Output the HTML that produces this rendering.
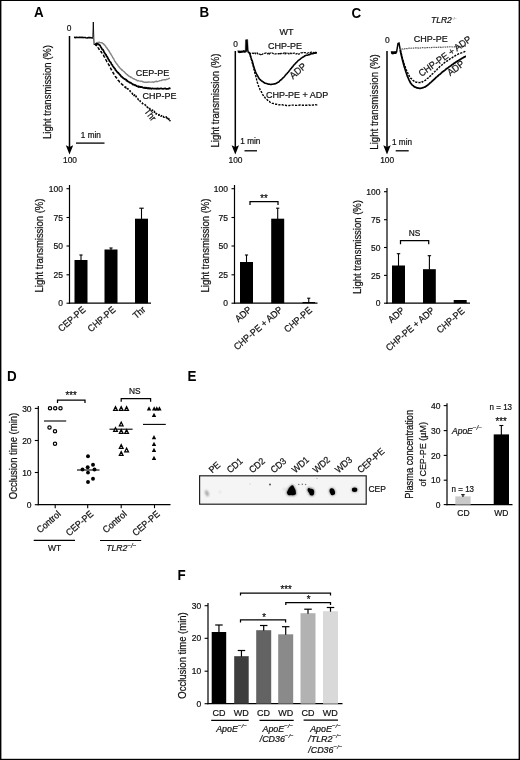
<!DOCTYPE html>
<html><head><meta charset="utf-8"><title>Figure</title>
<style>
html,body{margin:0;padding:0;background:#fff;}
body{width:520px;height:760px;overflow:hidden;font-family:"Liberation Sans",sans-serif;}
svg{display:block;}
svg text{font-family:"Liberation Sans",sans-serif;}
</style></head><body>
<svg width="520" height="760" viewBox="0 0 520 760">
<rect x="0" y="0" width="520" height="760" fill="#fff"/>
<rect x="0" y="0" width="520" height="1" fill="#000"/><rect x="0" y="758.8" width="520" height="1.2" fill="#000"/><rect x="0" y="0" width="1.4" height="760" fill="#000"/><rect x="518.6" y="0" width="1.4" height="760" fill="#000"/>
<defs><filter id="soft" x="0" y="0" width="100%" height="100%" filterUnits="userSpaceOnUse"><feGaussianBlur stdDeviation="0.33"/></filter></defs>
<g filter="url(#soft)">
<text transform="translate(34 17.3) scale(0.9 1)" font-size="14.89" font-weight="bold" fill="#000">A</text>
<text transform="translate(199.5 17.3) scale(0.9 1)" font-size="14.89" font-weight="bold" fill="#000">B</text>
<text transform="translate(351.5 17.6) scale(0.9 1)" font-size="14.89" font-weight="bold" fill="#000">C</text>
<text transform="translate(7 380.8) scale(0.9 1)" font-size="14.89" font-weight="bold" fill="#000">D</text>
<text transform="translate(187.5 380.8) scale(0.9 1)" font-size="14.89" font-weight="bold" fill="#000">E</text>
<text transform="translate(177.6 580.3) scale(0.9 1)" font-size="14.89" font-weight="bold" fill="#000">F</text>
<text transform="translate(69 30.5) scale(0.925 1)" font-size="9.08" text-anchor="middle" fill="#111" stroke="#111" stroke-width="0.22">0</text>
<line x1="69.5" y1="36" x2="69.5" y2="148.5" stroke="#000" stroke-width="1.5"/>
<polygon points="65.8,145.2 69.5,146.9 73.2,145.2 69.5,154.5" fill="#000"/>
<text transform="translate(70 163) scale(0.925 1)" font-size="9.08" text-anchor="middle" fill="#111" stroke="#111" stroke-width="0.22">100</text>
<text transform="translate(50.9 92) rotate(-90) scale(0.925 1)" font-size="10.27" text-anchor="middle" fill="#111" stroke="#111" stroke-width="0.22">Light transmission (%)</text>
<text transform="translate(90.8 138.2) scale(0.925 1)" font-size="8.86" text-anchor="middle" fill="#111" stroke="#111" stroke-width="0.22">1 min</text>
<line x1="76" y1="143.1" x2="104.5" y2="143.1" stroke="#000" stroke-width="1.3"/>
<polyline points="74.0,37.5 74.7,37.4 75.6,37.6 76.6,37.3 77.8,37.5 78.9,37.4 80.0,37.2 81.0,37.5 82.0,37.3 82.9,37.6 83.9,37.5 84.9,37.5 86.0,37.8 87.2,38.0 88.5,37.6 89.9,37.6 91.1,37.8 92.2,38.0 93.0,37.7" fill="none" stroke="#000" stroke-width="1.6" stroke-linejoin="round"/>
<polyline points="92.8,37.6 93.3,22 93.8,37.5 94.1,44.8 95.3,43.6" fill="none" stroke="#000" stroke-width="0.9"/>
<polyline points="95.3,43.9 95.6,44.1 95.9,43.4 96.3,43.6 96.8,43.0 97.3,42.7 97.8,42.4 98.3,42.4 98.8,42.6 99.2,42.2 99.7,42.5 100.2,42.6 100.7,42.6 101.2,42.8 101.7,42.7 102.1,42.9 102.5,43.1 102.8,43.6 103.1,43.6 103.4,43.7 103.6,44.1 103.9,44.2 104.1,44.3 104.3,44.9 104.6,45.1 104.9,45.2 105.2,45.7 105.5,46.0 105.7,46.7 106.0,47.0 106.4,47.1 106.7,48.0 107.0,48.0 107.3,48.7 107.7,49.4 108.1,49.6 108.5,50.4 108.9,50.7 109.3,51.6 109.6,52.3 110.0,52.7 110.4,53.5 110.7,53.7 111.0,54.5 111.4,55.0 111.7,55.5 112.0,56.0 112.4,56.8 112.7,57.5 113.0,57.8 113.4,58.5 113.7,58.7 114.1,59.7 114.4,60.3 114.7,61.1 115.1,61.6 115.4,61.8 115.7,62.4 116.1,63.0 116.4,63.1 116.7,63.9 117.1,64.2 117.4,64.6 117.7,64.9 118.0,65.8 118.3,65.7 118.5,66.1 118.8,66.5 119.0,67.1 119.3,66.9 119.5,67.4 119.7,67.7 120.0,68.2 120.3,68.5 120.6,68.8 120.8,68.8 121.1,69.1 121.4,69.4 121.7,70.0 122.0,70.3 122.3,70.1 122.6,70.4 122.9,70.6 123.1,70.9 123.4,71.3 123.7,71.6 124.0,71.6 124.3,71.7 124.6,72.3 124.9,72.5 125.3,73.0 125.6,73.5 126.0,73.7 126.4,73.9 126.7,74.3 127.1,74.7 127.5,74.6 127.9,75.4 128.3,75.7 128.7,76.0 129.1,76.3 129.5,76.4 129.9,76.7 130.3,76.8 130.8,77.4 131.3,77.3 131.8,77.6 132.3,78.0 132.8,78.3 133.3,78.7 133.9,78.8 134.4,79.0 135.0,79.4 135.6,79.6 136.1,80.0 136.6,80.0 137.1,80.7 137.7,80.7 138.4,80.6 139.1,80.9 140.0,81.1 141.0,81.3 142.1,81.3 143.4,82.0 144.7,82.2 146.0,82.1 147.4,82.2 148.7,82.0 150.0,82.1 151.2,82.1 152.5,82.0 153.8,82.2 155.0,81.6 156.2,81.3 157.5,81.6 158.8,81.1 160.0,80.6 161.3,80.5 162.7,79.9 164.2,79.8 165.6,79.7 167.0,79.3 168.2,78.9 169.2,78.4 170.0,78.2" fill="none" stroke="#858585" stroke-width="1.45" stroke-linejoin="round"/>
<polyline points="95.3,44.0 95.5,44.4 95.7,44.1 96.0,44.2 96.2,43.7 96.6,43.5 96.9,43.8 97.2,43.9 97.5,43.9 97.8,44.0 98.1,44.2 98.4,44.4 98.7,44.2 99.1,44.8 99.4,45.0 99.7,45.1 100.0,45.4 100.3,46.0 100.6,46.3 100.9,47.1 101.2,47.7 101.4,47.7 101.7,48.5 102.0,49.0 102.3,49.4 102.6,49.3 102.9,49.7 103.2,50.1 103.4,50.6 103.7,51.0 104.0,51.9 104.3,52.5 104.6,53.0 104.9,53.2 105.2,53.8 105.5,54.4 105.8,54.3 106.1,55.2 106.4,55.9 106.7,56.2 107.0,56.7 107.3,57.0 107.5,57.2 107.8,58.2 108.1,58.3 108.3,59.1 108.6,59.7 108.9,59.8 109.2,60.3 109.5,61.3 109.9,61.7 110.3,61.8 110.7,62.4 111.1,63.0 111.5,64.2 111.9,64.8 112.3,64.8 112.7,65.9 113.1,66.6 113.5,67.0 113.8,67.3 114.2,68.0 114.6,68.2 115.0,68.7 115.4,70.0 115.8,70.2 116.2,70.6 116.6,71.4 117.0,71.5 117.3,72.3 117.7,72.7 118.1,72.6 118.5,73.1 118.9,73.6 119.3,73.9 119.6,74.6 120.0,74.8 120.4,75.3 120.7,75.5 121.1,76.5 121.5,76.4 121.9,76.8 122.3,77.2 122.7,77.8 123.0,77.7 123.4,78.4 123.8,78.4 124.2,78.7 124.6,79.0 125.0,78.9 125.4,79.5 125.8,79.6 126.1,79.7 126.5,80.7 126.9,80.4 127.3,80.9 127.7,81.4 128.1,81.5 128.5,81.5 128.9,81.9 129.3,82.2 129.6,82.6 130.0,82.3 130.4,82.8 130.8,82.8 131.2,83.0 131.6,83.6 131.9,83.6 132.3,83.9 132.7,84.2 133.0,84.6 133.4,84.4 133.8,84.7 134.2,84.8 134.6,85.0 135.0,85.3 135.4,85.2 135.8,85.5 136.2,85.6 136.6,86.1 137.0,86.1 137.4,86.4 137.7,86.5 138.1,86.1 138.4,86.5 138.7,87.0 139.1,87.0 139.5,86.6 140.0,86.7 140.5,87.1 141.1,86.9 141.7,87.1 142.4,87.1 143.0,87.7 143.7,87.9 144.4,88.0 145.0,87.5 145.6,88.1 146.2,88.1 146.9,87.7 147.5,88.4 148.1,88.5 148.8,88.0 149.4,88.6 150.0,88.2 150.6,88.3 151.2,88.8 151.7,88.7 152.3,88.3 152.9,88.5 153.5,88.6 154.2,88.5 155.0,88.5 155.9,88.6 156.8,88.9 157.8,88.4 158.8,88.8 159.9,88.7 161.0,88.3 162.0,88.6 163.0,88.8 164.0,88.7 165.1,88.3 166.2,89.0 167.2,88.8 168.3,88.9 169.2,88.2 169.9,88.3 170.5,88.1" fill="none" stroke="#000" stroke-width="1.75" stroke-linejoin="round"/>
<polyline points="95.0,44.7 95.1,44.4 95.2,44.4 95.4,44.6 95.6,45.0 95.8,45.1 96.0,44.9 96.3,45.0 96.5,45.8 96.8,45.9 97.0,46.3 97.3,46.3 97.6,46.8 98.0,47.6 98.3,48.0 98.6,48.2 99.0,49.3 99.4,49.6 99.8,50.2 100.2,50.4 100.6,51.4 101.1,51.5 101.5,52.5 101.9,52.9 102.3,53.4 102.7,54.1 103.0,54.9 103.3,55.1 103.7,55.6 104.0,56.5 104.3,56.9 104.7,57.4 105.0,58.1 105.4,58.7 105.7,59.4 106.1,60.1 106.5,60.7 106.9,61.7 107.2,62.0 107.6,62.8 108.0,63.3 108.4,64.1 108.8,64.6 109.1,65.4 109.5,66.0 109.9,67.1 110.3,67.7 110.6,68.2 111.0,69.0 111.4,69.9 111.7,70.0 112.1,71.1 112.4,71.4 112.8,72.1 113.1,72.9 113.5,73.2 113.8,73.8 114.1,74.5 114.5,75.2 114.8,75.3 115.1,76.1 115.5,76.6 115.8,77.1 116.1,77.4 116.5,77.9 116.9,78.3 117.3,78.8 117.6,79.3 118.0,80.2 118.4,80.5 118.8,80.9 119.2,81.3 119.6,82.2 120.0,82.6 120.3,82.9 120.7,83.0 121.1,83.3 121.4,83.7 121.8,84.1 122.1,84.3 122.5,84.8 122.9,85.0 123.3,85.8 123.7,86.1 124.1,86.2 124.5,86.3 124.9,87.1 125.2,86.9 125.4,87.1" fill="none" stroke="#000" stroke-width="1.5" stroke-linejoin="round" stroke-dasharray="3.2 1.7"/>
<polyline points="125.4,86.5 125.6,87.2 125.8,87.6 126.1,87.9 126.5,87.7 126.8,88.5 127.2,88.1 127.6,88.8 128.0,88.9 128.4,89.7 128.8,89.6 129.2,89.9 129.7,90.7 130.1,90.9 130.6,91.8 131.1,92.1 131.5,92.9 131.9,93.1 132.4,93.6 132.8,94.2 133.2,93.9 133.7,94.3 134.1,95.6 134.5,94.9 135.0,96.1 135.5,96.5 136.0,96.1 136.5,97.7 137.0,98.3 137.5,98.5 138.0,99.1 138.5,99.7 139.0,99.3 139.5,100.3 140.0,100.8 140.5,101.7 141.0,102.1 141.5,102.6 142.0,102.7 142.5,103.6 143.0,103.8 143.5,104.2 144.0,104.0 144.5,104.1 145.0,104.7 145.5,105.4 146.0,105.5 146.5,106.9 147.0,106.9 147.5,107.4 148.0,107.7 148.5,108.1 149.0,108.2 149.5,107.9 150.0,109.3 150.5,109.6 151.0,109.6 151.5,110.0 152.0,110.6 152.5,110.1 153.1,111.4 153.6,111.1 154.1,111.2 154.5,111.9 155.0,112.8 155.4,112.4 155.8,113.4 156.2,114.0 156.5,113.6 156.8,113.6 157.2,114.0 157.6,114.5 158.0,114.9 158.5,114.9 159.0,115.2 159.5,114.6 160.0,114.9 160.5,115.3 161.0,116.2 161.5,115.7 162.0,116.3 162.4,115.7 162.8,115.9 163.2,116.3 163.6,117.0 163.9,117.1 164.3,117.2 164.6,116.8 165.0,117.2 165.4,117.2 165.8,117.3 166.2,116.9 166.6,118.1 166.9,117.2 167.3,118.4 167.7,118.4 168.0,117.3 168.3,118.2 168.6,119.0 168.9,119.5 169.2,119.1 169.4,119.2 169.7,119.4 169.9,120.7 170.0,119.9" fill="none" stroke="#000" stroke-width="1.6" stroke-linejoin="round" stroke-dasharray="2 1.5"/>
<text transform="translate(135.7 76) scale(0.925 1)" font-size="9.73" fill="#111" stroke="#111" stroke-width="0.22">CEP-PE</text>
<text transform="translate(142.5 99) scale(0.925 1)" font-size="9.73" fill="#111" stroke="#111" stroke-width="0.22">CHP-PE</text>
<text transform="translate(143.8 111.5) rotate(52) scale(0.925 1)" font-size="9.51" fill="#111" stroke="#111" stroke-width="0.22">Thr</text>
<text transform="translate(235.6 47) scale(0.925 1)" font-size="9.08" text-anchor="middle" fill="#111" stroke="#111" stroke-width="0.22">0</text>
<line x1="235.3" y1="51" x2="235.3" y2="148.5" stroke="#000" stroke-width="1.5"/>
<polygon points="231.60000000000002,145.2 235.3,146.9 239.0,145.2 235.3,154.5" fill="#000"/>
<text transform="translate(235.5 163) scale(0.925 1)" font-size="9.08" text-anchor="middle" fill="#111" stroke="#111" stroke-width="0.22">100</text>
<text transform="translate(218.6 100.5) rotate(-90) scale(0.925 1)" font-size="10.27" text-anchor="middle" fill="#111" stroke="#111" stroke-width="0.22">Light transmission (%)</text>
<text transform="translate(250.3 143.7) scale(0.925 1)" font-size="8.86" text-anchor="middle" fill="#111" stroke="#111" stroke-width="0.22">1 min</text>
<line x1="244.5" y1="150.8" x2="257" y2="150.8" stroke="#000" stroke-width="1.3"/>
<text transform="translate(286.5 35) scale(0.925 1)" font-size="9.73" text-anchor="middle" fill="#111" stroke="#111" stroke-width="0.22">WT</text>
<text transform="translate(285 48.7) scale(0.925 1)" font-size="9.73" text-anchor="middle" fill="#111" stroke="#111" stroke-width="0.22">CHP-PE</text>
<polyline points="237.7,51.6 238.1,51.5 238.7,51.8 239.3,52.1 240.0,51.7 240.7,52.0 241.5,51.7 242.3,51.7 243.0,51.5 243.7,51.2 244.5,51.7 245.1,51.5 245.6,51.3" fill="none" stroke="#000" stroke-width="2.2" stroke-linejoin="round"/>
<polygon points="245.2,52 245.5,39.8 247.7,39.5 248.3,50 249.3,53 248,53 247,50 246.6,52" fill="#000" stroke="#000" stroke-width="0.4"/>
<polyline points="249.0,52.8 249.7,53.5 250.5,53.4 251.2,53.2 252.0,53.0 252.8,53.3 253.5,53.2 254.2,54.0 255.0,52.8 255.8,53.9 256.5,54.0 257.2,52.9 258.0,54.1 258.8,53.7 259.5,54.1 260.2,54.3 261.0,55.3 261.8,54.5 262.5,54.2 263.2,53.5 264.0,53.3 264.8,53.4 265.5,53.2 266.2,52.8 267.0,52.9 267.8,54.0 268.5,53.2 269.2,54.2 270.0,53.1 270.8,53.1 271.5,53.5 272.2,53.0 273.0,53.3 273.8,54.2 274.5,54.1 275.2,54.0 276.0,53.7 276.8,54.1 277.5,54.2 278.2,53.6 279.0,53.8 279.8,52.8 280.5,53.8 281.2,53.4 282.0,53.9 282.8,53.7 283.5,53.2 284.2,52.8 285.0,54.1 285.8,52.9 286.5,53.5 287.2,53.3 288.0,53.2 288.8,53.9 289.5,54.2 290.2,53.1 291.0,53.7 291.8,53.2 292.5,53.6 293.2,53.3 294.0,53.0 294.8,53.0 295.5,53.1 296.2,54.1 297.0,53.5 297.8,53.1 298.5,54.1 299.2,54.2 300.0,53.3 300.8,52.8 301.5,52.8 302.2,52.6 303.0,52.9 303.8,52.5 304.5,52.7 305.2,52.6 306.0,53.0 306.8,53.5 307.5,53.2 308.2,52.7 309.0,52.6 309.8,52.7 310.5,52.4 311.2,52.3 312.0,51.9 312.8,52.1 313.5,53.1 314.2,51.8 315.0,52.3 315.8,52.4 316.5,52.7" fill="none" stroke="#111" stroke-width="1.25" stroke-linejoin="round" stroke-dasharray="2.4 0.9"/>
<polyline points="249.2,52.0 249.4,52.7 249.7,53.5 250.1,54.6 250.5,55.8 250.9,57.3 251.3,58.5 251.7,59.8 252.1,60.6 252.5,61.8 252.8,63.3 253.1,64.6 253.5,65.7 253.8,66.9 254.2,67.9 254.6,69.2 255.0,70.6 255.4,71.6 255.9,72.7 256.3,73.7 256.8,74.4 257.3,75.3 257.8,76.2 258.3,77.2 258.8,78.1 259.4,78.9 259.9,79.5 260.6,80.0 261.2,80.6 261.8,81.0 262.5,81.5 263.1,81.7 263.7,82.4 264.3,82.6 264.9,83.2 265.5,83.3 266.1,83.4 266.7,83.6 267.3,83.8 267.9,84.1 268.5,84.3 269.1,84.1 269.7,84.2 270.3,84.4 270.9,84.5 271.5,84.4 272.1,84.3 272.7,84.3 273.3,84.0 273.9,84.0 274.5,83.9 275.1,83.9 275.6,83.6 276.2,83.4 276.8,83.0 277.4,82.6 278.0,82.2 278.6,82.1 279.2,81.5 279.8,80.8 280.4,80.2 281.1,79.8 281.7,79.3 282.3,78.6 282.9,77.9 283.5,77.5 284.1,77.0 284.7,76.1 285.2,75.3 285.8,74.8 286.4,74.1 287.1,73.5 287.7,72.6 288.4,72.0 289.1,71.1 289.8,70.1 290.5,69.1 291.3,68.4 292.0,67.3 292.8,66.6 293.5,65.5 294.2,64.7 294.9,64.1 295.6,63.2 296.3,62.7 297.1,61.8 297.8,61.0 298.5,60.3 299.2,59.8 299.9,59.3 300.6,58.8 301.4,58.0 302.1,57.6 302.8,57.1 303.5,57.0 304.3,56.2 305.0,55.8 305.7,55.5 306.4,55.3 307.2,55.2 307.9,55.0 308.6,54.7 309.3,54.6 310.1,54.4 310.8,53.9 311.6,53.7 312.5,53.8 313.4,53.5 314.3,53.0 315.1,53.1 315.9,52.9 316.5,52.7 317.0,52.6" fill="none" stroke="#000" stroke-width="1.6" stroke-linejoin="round"/>
<polyline points="249.6,52.8 249.6,52.8 249.7,53.0 249.7,53.1 249.7,53.6 249.8,53.3 249.9,54.1 250.0,54.1 250.2,54.9 250.4,56.1 250.7,57.2 251.1,58.3 251.4,59.4 251.8,61.2 252.2,62.6 252.6,64.4 253.0,65.4 253.4,66.9 253.7,68.7 254.1,69.6 254.5,71.4 254.9,73.1 255.3,74.5 255.6,75.5 256.0,76.8 256.4,78.1 256.7,79.9 257.0,80.8 257.3,82.3 257.7,83.6 258.0,84.4 258.4,85.5 258.8,87.0 259.2,87.8 259.7,88.7 260.2,90.0 260.7,90.7 261.2,91.7 261.7,92.4 262.2,93.7 262.7,94.6 263.2,95.2 263.6,96.1 264.1,96.2 264.5,96.9 265.0,97.6 265.5,98.4 266.0,99.0 266.5,99.1 267.0,99.6 267.6,100.2 268.1,100.7 268.7,101.4 269.3,101.4 269.9,102.1 270.6,102.5 271.3,102.9 272.0,103.2 272.8,103.4 273.5,103.5 274.3,103.7 275.2,104.0 276.1,104.4 277.0,104.2 278.0,104.4 279.1,104.9 280.2,104.7 281.3,104.7 282.5,104.8 283.7,105.2 285.0,105.1 286.3,105.5 287.7,105.5 289.1,105.6 290.6,105.2 292.2,105.1 293.8,105.1 295.4,105.3 297.0,105.4 298.6,105.2 300.0,105.0 301.4,105.1 302.7,105.2 304.0,105.3 305.3,105.3 306.5,105.3 307.7,105.2 308.9,104.9 310.0,105.3 311.1,105.0 312.2,105.1 313.3,105.0 314.4,105.2 315.3,104.8 316.2,104.9 316.9,104.9 317.5,104.8" fill="none" stroke="#000" stroke-width="1.4" stroke-linejoin="round" stroke-dasharray="2.2 1.2"/>
<text transform="translate(293 79.5) rotate(-41) scale(0.925 1)" font-size="9.73" fill="#111" stroke="#111" stroke-width="0.22">ADP</text>
<text transform="translate(266 98) scale(0.925 1)" font-size="9.73" fill="#111" stroke="#111" stroke-width="0.22">CHP-PE + ADP</text>
<text transform="translate(387.3 43) scale(0.925 1)" font-size="9.08" text-anchor="middle" fill="#111" stroke="#111" stroke-width="0.22">0</text>
<line x1="387" y1="51" x2="387" y2="148.5" stroke="#000" stroke-width="1.5"/>
<polygon points="383.3,145.2 387,146.9 390.7,145.2 387,154.5" fill="#000"/>
<text transform="translate(387.2 163) scale(0.925 1)" font-size="9.08" text-anchor="middle" fill="#111" stroke="#111" stroke-width="0.22">100</text>
<text transform="translate(377.7 102) rotate(-90) scale(0.925 1)" font-size="10.43" text-anchor="middle" fill="#111" stroke="#111" stroke-width="0.22">Light transmission (%)</text>
<text transform="translate(402 145) scale(0.925 1)" font-size="8.86" text-anchor="middle" fill="#111" stroke="#111" stroke-width="0.22">1 min</text>
<line x1="395.7" y1="150.8" x2="408.7" y2="150.8" stroke="#000" stroke-width="1.3"/>
<text transform="translate(431 23.4) scale(1.0 1)" font-size="8.5" font-style="italic" fill="#111" stroke="#111" stroke-width="0.22">TLR2<tspan font-size="3.4" dy="-3.4" fill="#777" stroke="#777" stroke-width="0.1">−/−</tspan></text>
<text transform="translate(413.7 41.7) scale(0.925 1)" font-size="9.73" fill="#111" stroke="#111" stroke-width="0.22">CHP-PE</text>
<polyline points="391.0,52.8 391.4,52.7 391.9,52.6 392.5,52.7 393.0,53.0 393.5,52.8 394.0,52.6 394.5,52.7 395.0,52.6 395.5,52.7 396.0,52.3 396.5,52.5 396.8,52.6" fill="none" stroke="#000" stroke-width="2.8" stroke-linejoin="round"/>
<polyline points="396.5,52.5 398,43.5 399,43 400,48.5 400.5,50" fill="none" stroke="#000" stroke-width="1.5"/>
<polyline points="400.5,49.7 400.7,49.7 400.8,49.1 401.1,49.2 401.3,49.0 401.6,48.9 402.0,49.3 402.5,48.9 403.0,49.1 403.6,48.6 404.4,48.9 405.2,48.6 406.0,48.4 407.0,48.6 407.9,48.7 409.0,48.1 410.0,48.4 411.1,48.3 412.3,48.0 413.5,48.1 414.8,47.9 416.1,47.9 417.4,47.9 418.7,48.1 420.0,48.1 421.2,47.8 422.5,47.6 423.8,47.7 425.0,47.9 426.2,47.6 427.5,47.6 428.8,47.5 430.0,47.8 431.2,47.6 432.5,47.3 433.8,47.2 435.0,47.4 436.2,47.4 437.5,47.5 438.8,47.1 440.0,47.1 441.2,47.4 442.5,47.2 443.8,47.0 445.0,47.0 446.2,47.3 447.5,46.9 448.8,47.0 450.0,46.8 451.3,46.8 452.6,47.0 453.9,47.0 455.2,46.6 456.5,46.5 457.8,46.7 458.9,46.4 460.0,46.2 461.0,46.7 461.9,46.4 462.8,46.6 463.6,46.3 464.4,46.5 465.0,46.2 465.6,46.0 466.0,45.9" fill="none" stroke="#555" stroke-width="1.1" stroke-linejoin="round" stroke-dasharray="1.6 0.7"/>
<polyline points="400.2,50.0 400.3,50.6 400.5,51.5 400.7,52.2 400.9,53.3 401.2,54.4 401.4,55.6 401.7,56.7 402.0,57.9 402.3,59.3 402.7,60.7 403.0,61.9 403.4,63.5 403.8,65.0 404.2,66.5 404.6,67.6 405.0,68.9 405.4,70.3 405.8,71.5 406.1,72.5 406.5,73.4 406.9,74.7 407.2,75.6 407.6,76.7 408.0,77.5 408.4,78.5 408.7,79.1 409.1,80.1 409.4,80.7 409.8,81.5 410.2,82.3 410.6,83.0 411.0,83.4 411.4,84.0 411.9,84.6 412.4,85.1 412.9,85.5 413.4,85.8 413.9,86.3 414.4,86.8 415.0,87.1 415.6,87.1 416.2,87.6 416.8,87.8 417.5,87.8 418.2,88.2 418.8,88.1 419.4,88.3 420.0,88.3 420.6,88.3 421.1,88.2 421.6,88.1 422.1,88.0 422.6,87.8 423.1,87.7 423.5,87.5 424.0,87.3 424.5,87.0 424.9,87.0 425.3,86.7 425.7,86.4 426.1,86.3 426.6,86.0 427.0,85.6 427.5,85.2 428.0,84.9 428.5,84.3 429.1,83.9 429.6,83.5 430.2,82.8 430.8,82.4 431.4,81.9 432.0,81.2 432.6,80.8 433.3,80.0 434.0,79.6 434.7,78.9 435.4,78.2 436.1,77.4 436.8,76.9 437.5,76.3 438.2,75.8 438.8,75.0 439.5,74.6 440.2,74.1 440.8,73.4 441.5,72.8 442.2,72.0 443.0,71.6 443.8,70.9 444.6,70.4 445.5,69.7 446.3,68.8 447.2,68.4 448.1,67.8 449.1,66.8 450.0,66.3 451.0,65.7 451.9,64.8 452.9,64.3 453.9,63.4 455.0,62.9 456.0,62.0 457.0,61.4 458.0,60.9 459.1,60.1 460.2,59.4 461.4,58.8 462.5,58.1 463.6,57.4 464.6,56.9 465.4,56.4 466.0,56.3" fill="none" stroke="#000" stroke-width="1.75" stroke-linejoin="round"/>
<polyline points="400.5,50.1 400.6,50.7 400.7,50.9 400.9,52.0 401.1,52.4 401.3,53.5 401.5,54.5 401.7,55.4 402.0,56.7 402.3,57.6 402.6,58.9 403.0,60.3 403.4,61.3 403.8,63.1 404.2,64.2 404.6,65.3 405.0,66.6 405.4,67.4 405.8,68.8 406.1,69.5 406.5,70.2 406.9,71.3 407.2,71.9 407.6,72.6 408.0,73.6 408.4,74.0 408.7,75.1 409.1,75.5 409.4,76.3 409.8,77.1 410.2,77.5 410.6,78.1 411.0,78.4 411.5,78.8 411.9,79.2 412.4,79.8 412.9,80.4 413.5,80.7 414.0,81.1 414.5,81.6 415.0,81.5 415.5,81.8 416.0,82.2 416.5,82.1 417.0,82.2 417.5,82.4 418.0,82.4 418.5,82.5 419.0,82.5 419.5,82.6 420.0,82.6 420.5,82.3 421.0,82.4 421.5,82.1 422.0,81.8 422.5,82.0 423.0,81.4 423.5,81.0 424.1,80.7 424.7,80.6 425.2,80.4 425.8,79.9 426.4,79.3 426.9,78.8 427.5,78.3 428.1,78.1 428.6,77.6 429.1,77.0 429.7,76.6 430.2,76.0 430.8,75.7 431.4,75.0 432.0,74.2 432.6,73.9 433.3,72.8 434.0,72.4 434.7,71.7 435.4,70.9 436.1,70.1 436.8,69.8 437.5,68.8 438.2,68.4 438.8,67.9 439.5,66.9 440.2,66.3 440.8,65.9 441.5,65.2 442.2,64.7 443.0,64.2 443.8,63.2 444.6,62.6 445.5,62.0 446.3,61.3 447.2,61.0 448.1,60.4 449.1,59.7 450.0,58.8 451.0,58.6 451.9,57.9 452.9,57.1 453.9,56.7 455.0,55.9 456.0,55.2 457.0,54.6 458.0,54.2 459.1,53.6 460.2,53.2 461.4,52.9 462.5,52.5 463.6,52.1 464.6,51.7 465.4,51.1 466.0,51.0" fill="none" stroke="#000" stroke-width="1.4" stroke-linejoin="round" stroke-dasharray="2.2 1.1"/>
<text transform="translate(421.5 77) rotate(-35.6) scale(0.925 1)" font-size="9.73" fill="#111" stroke="#111" stroke-width="0.22">CHP-PE + ADP</text>
<text transform="translate(450.2 76.2) rotate(-36) scale(0.925 1)" font-size="9.73" fill="#111" stroke="#111" stroke-width="0.22">ADP</text>
<line x1="69.5" y1="185" x2="69.5" y2="303.8" stroke="#000" stroke-width="1.2"/>
<line x1="68.9" y1="303.2" x2="151" y2="303.2" stroke="#000" stroke-width="1.2"/>
<line x1="66.5" y1="188.7" x2="69.5" y2="188.7" stroke="#000" stroke-width="1.1"/>
<text transform="translate(62.9 191.79999999999998) scale(0.925 1)" font-size="9.19" text-anchor="end" fill="#111" stroke="#111" stroke-width="0.22">100</text>
<line x1="66.5" y1="217.5" x2="69.5" y2="217.5" stroke="#000" stroke-width="1.1"/>
<text transform="translate(62.9 220.6) scale(0.925 1)" font-size="9.19" text-anchor="end" fill="#111" stroke="#111" stroke-width="0.22">75</text>
<line x1="66.5" y1="246" x2="69.5" y2="246" stroke="#000" stroke-width="1.1"/>
<text transform="translate(62.9 249.1) scale(0.925 1)" font-size="9.19" text-anchor="end" fill="#111" stroke="#111" stroke-width="0.22">50</text>
<line x1="66.5" y1="274.8" x2="69.5" y2="274.8" stroke="#000" stroke-width="1.1"/>
<text transform="translate(62.9 277.90000000000003) scale(0.925 1)" font-size="9.19" text-anchor="end" fill="#111" stroke="#111" stroke-width="0.22">25</text>
<line x1="66.5" y1="303.2" x2="69.5" y2="303.2" stroke="#000" stroke-width="1.1"/>
<text transform="translate(62.9 306.3) scale(0.925 1)" font-size="9.19" text-anchor="end" fill="#111" stroke="#111" stroke-width="0.22">0</text>
<text transform="translate(43.2 245.5) rotate(-90) scale(0.925 1)" font-size="10.27" text-anchor="middle" fill="#111" stroke="#111" stroke-width="0.22">Light transmission (%)</text>
<rect x="74.5" y="260" width="13.0" height="43.19999999999999" fill="#000"/>
<line x1="81.0" y1="255" x2="81.0" y2="260.5" stroke="#000" stroke-width="1.1"/>
<line x1="79.4" y1="255" x2="82.6" y2="255" stroke="#000" stroke-width="1.1"/>
<rect x="104.5" y="249.5" width="13.0" height="53.69999999999999" fill="#000"/>
<line x1="111.0" y1="248" x2="111.0" y2="250.0" stroke="#000" stroke-width="1.1"/>
<line x1="109.4" y1="248" x2="112.6" y2="248" stroke="#000" stroke-width="1.1"/>
<rect x="135" y="218.7" width="13" height="84.5" fill="#000"/>
<line x1="141.5" y1="208.2" x2="141.5" y2="219.2" stroke="#000" stroke-width="1.1"/>
<line x1="139.25" y1="208.2" x2="143.75" y2="208.2" stroke="#000" stroke-width="1.1"/>
<text transform="translate(86.2 310.7) rotate(-41) scale(0.925 1)" font-size="9.51" text-anchor="end" fill="#111" stroke="#111" stroke-width="0.22">CEP-PE</text>
<text transform="translate(116.2 310.7) rotate(-41) scale(0.925 1)" font-size="9.51" text-anchor="end" fill="#111" stroke="#111" stroke-width="0.22">CHP-PE</text>
<text transform="translate(146.2 310.7) rotate(-41) scale(0.925 1)" font-size="9.51" text-anchor="end" fill="#111" stroke="#111" stroke-width="0.22">Thr</text>
<line x1="234.5" y1="185" x2="234.5" y2="303.8" stroke="#000" stroke-width="1.2"/>
<line x1="233.9" y1="303.2" x2="317.5" y2="303.2" stroke="#000" stroke-width="1.2"/>
<line x1="231.5" y1="188.7" x2="234.5" y2="188.7" stroke="#000" stroke-width="1.1"/>
<text transform="translate(227.9 191.79999999999998) scale(0.925 1)" font-size="9.19" text-anchor="end" fill="#111" stroke="#111" stroke-width="0.22">100</text>
<line x1="231.5" y1="217.5" x2="234.5" y2="217.5" stroke="#000" stroke-width="1.1"/>
<text transform="translate(227.9 220.6) scale(0.925 1)" font-size="9.19" text-anchor="end" fill="#111" stroke="#111" stroke-width="0.22">75</text>
<line x1="231.5" y1="246" x2="234.5" y2="246" stroke="#000" stroke-width="1.1"/>
<text transform="translate(227.9 249.1) scale(0.925 1)" font-size="9.19" text-anchor="end" fill="#111" stroke="#111" stroke-width="0.22">50</text>
<line x1="231.5" y1="274.8" x2="234.5" y2="274.8" stroke="#000" stroke-width="1.1"/>
<text transform="translate(227.9 277.90000000000003) scale(0.925 1)" font-size="9.19" text-anchor="end" fill="#111" stroke="#111" stroke-width="0.22">25</text>
<line x1="231.5" y1="303.2" x2="234.5" y2="303.2" stroke="#000" stroke-width="1.1"/>
<text transform="translate(227.9 306.3) scale(0.925 1)" font-size="9.19" text-anchor="end" fill="#111" stroke="#111" stroke-width="0.22">0</text>
<text transform="translate(208.5 245.5) rotate(-90) scale(0.925 1)" font-size="10.27" text-anchor="middle" fill="#111" stroke="#111" stroke-width="0.22">Light transmission (%)</text>
<rect x="240" y="262" width="13" height="41.19999999999999" fill="#000"/>
<line x1="246.5" y1="255" x2="246.5" y2="262.5" stroke="#000" stroke-width="1.1"/>
<line x1="244.9" y1="255" x2="248.1" y2="255" stroke="#000" stroke-width="1.1"/>
<rect x="271.2" y="218.7" width="13.0" height="84.5" fill="#000"/>
<line x1="277.7" y1="208.2" x2="277.7" y2="219.2" stroke="#000" stroke-width="1.1"/>
<line x1="276.09999999999997" y1="208.2" x2="279.3" y2="208.2" stroke="#000" stroke-width="1.1"/>
<rect x="302.5" y="302" width="12.5" height="1.1999999999999886" fill="#000"/>
<line x1="308.75" y1="298.2" x2="308.75" y2="302.5" stroke="#000" stroke-width="1.1"/>
<line x1="307.15" y1="298.2" x2="310.35" y2="298.2" stroke="#000" stroke-width="1.1"/>
<polyline points="250,204.89999999999998 250,201.7 278,201.7 278,204.89999999999998" fill="none" stroke="#000" stroke-width="1.25"/>
<text transform="translate(264 202) scale(0.95 1)" font-size="10.11" text-anchor="middle" fill="#111" stroke="#111" stroke-width="0.22">**</text>
<text transform="translate(252.2 310.7) rotate(-41) scale(0.925 1)" font-size="9.51" text-anchor="end" fill="#111" stroke="#111" stroke-width="0.22">ADP</text>
<text transform="translate(283.2 310.7) rotate(-41) scale(0.925 1)" font-size="9.51" text-anchor="end" fill="#111" stroke="#111" stroke-width="0.22">CHP-PE + ADP</text>
<text transform="translate(312.7 311.2) rotate(-41) scale(0.925 1)" font-size="9.51" text-anchor="end" fill="#111" stroke="#111" stroke-width="0.22">CHP-PE</text>
<line x1="387" y1="188" x2="387" y2="303.8" stroke="#000" stroke-width="1.2"/>
<line x1="386.4" y1="303.2" x2="470" y2="303.2" stroke="#000" stroke-width="1.2"/>
<line x1="384" y1="191.7" x2="387" y2="191.7" stroke="#000" stroke-width="1.1"/>
<text transform="translate(380.4 194.79999999999998) scale(0.925 1)" font-size="9.19" text-anchor="end" fill="#111" stroke="#111" stroke-width="0.22">100</text>
<line x1="384" y1="219.7" x2="387" y2="219.7" stroke="#000" stroke-width="1.1"/>
<text transform="translate(380.4 222.79999999999998) scale(0.925 1)" font-size="9.19" text-anchor="end" fill="#111" stroke="#111" stroke-width="0.22">75</text>
<line x1="384" y1="247.5" x2="387" y2="247.5" stroke="#000" stroke-width="1.1"/>
<text transform="translate(380.4 250.6) scale(0.925 1)" font-size="9.19" text-anchor="end" fill="#111" stroke="#111" stroke-width="0.22">50</text>
<line x1="384" y1="275.4" x2="387" y2="275.4" stroke="#000" stroke-width="1.1"/>
<text transform="translate(380.4 278.5) scale(0.925 1)" font-size="9.19" text-anchor="end" fill="#111" stroke="#111" stroke-width="0.22">25</text>
<line x1="384" y1="303.2" x2="387" y2="303.2" stroke="#000" stroke-width="1.1"/>
<text transform="translate(380.4 306.3) scale(0.925 1)" font-size="9.19" text-anchor="end" fill="#111" stroke="#111" stroke-width="0.22">0</text>
<text transform="translate(360.7 247) rotate(-90) scale(0.925 1)" font-size="10.27" text-anchor="middle" fill="#111" stroke="#111" stroke-width="0.22">Light transmission (%)</text>
<rect x="392" y="265.5" width="13" height="37.69999999999999" fill="#000"/>
<line x1="398.5" y1="253.7" x2="398.5" y2="266.0" stroke="#000" stroke-width="1.1"/>
<line x1="396.8" y1="253.7" x2="400.2" y2="253.7" stroke="#000" stroke-width="1.1"/>
<rect x="423" y="269.2" width="12.800000000000011" height="34.0" fill="#000"/>
<line x1="429.4" y1="255.7" x2="429.4" y2="269.7" stroke="#000" stroke-width="1.1"/>
<line x1="427.7" y1="255.7" x2="431.09999999999997" y2="255.7" stroke="#000" stroke-width="1.1"/>
<rect x="453.7" y="300" width="13.0" height="3.1999999999999886" fill="#000"/>
<polyline points="400.5,244.2 400.5,240.7 428.7,240.7 428.7,244.2" fill="none" stroke="#000" stroke-width="1.25"/>
<text transform="translate(414.5 235.8) scale(0.925 1)" font-size="8.97" text-anchor="middle" fill="#111" stroke="#111" stroke-width="0.22">NS</text>
<text transform="translate(405.2 311.5) rotate(-41) scale(0.925 1)" font-size="9.51" text-anchor="end" fill="#111" stroke="#111" stroke-width="0.22">ADP</text>
<text transform="translate(435.2 311.5) rotate(-41) scale(0.925 1)" font-size="9.51" text-anchor="end" fill="#111" stroke="#111" stroke-width="0.22">CHP-PE + ADP</text>
<text transform="translate(465.2 312) rotate(-41) scale(0.925 1)" font-size="9.51" text-anchor="end" fill="#111" stroke="#111" stroke-width="0.22">CHP-PE</text>
<line x1="38.3" y1="406" x2="38.3" y2="505.3" stroke="#000" stroke-width="1.2"/>
<line x1="37.7" y1="504.7" x2="170.5" y2="504.7" stroke="#000" stroke-width="1.2"/>
<line x1="34.8" y1="408.4" x2="38.3" y2="408.4" stroke="#000" stroke-width="1.1"/>
<text transform="translate(31.6 411.5) scale(0.925 1)" font-size="9.19" text-anchor="end" fill="#111" stroke="#111" stroke-width="0.22">30</text>
<line x1="34.8" y1="440.5" x2="38.3" y2="440.5" stroke="#000" stroke-width="1.1"/>
<text transform="translate(31.6 443.6) scale(0.925 1)" font-size="9.19" text-anchor="end" fill="#111" stroke="#111" stroke-width="0.22">20</text>
<line x1="34.8" y1="472.5" x2="38.3" y2="472.5" stroke="#000" stroke-width="1.1"/>
<text transform="translate(31.6 475.6) scale(0.925 1)" font-size="9.19" text-anchor="end" fill="#111" stroke="#111" stroke-width="0.22">10</text>
<line x1="34.8" y1="504.7" x2="38.3" y2="504.7" stroke="#000" stroke-width="1.1"/>
<text transform="translate(31.6 507.8) scale(0.925 1)" font-size="9.19" text-anchor="end" fill="#111" stroke="#111" stroke-width="0.22">0</text>
<line x1="55.2" y1="504.7" x2="55.2" y2="508.2" stroke="#000" stroke-width="1.1"/>
<line x1="87.7" y1="504.7" x2="87.7" y2="508.2" stroke="#000" stroke-width="1.1"/>
<line x1="121.2" y1="504.7" x2="121.2" y2="508.2" stroke="#000" stroke-width="1.1"/>
<line x1="154.5" y1="504.7" x2="154.5" y2="508.2" stroke="#000" stroke-width="1.1"/>
<text transform="translate(16.8 456) rotate(-90) scale(0.925 1)" font-size="10.27" text-anchor="middle" fill="#111" stroke="#111" stroke-width="0.22">Occlusion time (min)</text>
<line x1="44" y1="421" x2="66.2" y2="421" stroke="#000" stroke-width="1.1"/>
<circle cx="50" cy="408.2" r="1.65" fill="#fff" stroke="#000" stroke-width="1.2"/>
<circle cx="55.2" cy="408.2" r="1.65" fill="#fff" stroke="#000" stroke-width="1.2"/>
<circle cx="60.5" cy="408.2" r="1.65" fill="#fff" stroke="#000" stroke-width="1.2"/>
<circle cx="49.5" cy="427.5" r="1.65" fill="#fff" stroke="#000" stroke-width="1.2"/>
<circle cx="55" cy="431.2" r="1.65" fill="#fff" stroke="#000" stroke-width="1.2"/>
<circle cx="55" cy="443.7" r="1.65" fill="#fff" stroke="#000" stroke-width="1.2"/>
<line x1="77" y1="470" x2="99.5" y2="470" stroke="#000" stroke-width="1.1"/>
<circle cx="88" cy="456.2" r="1.95" fill="#000"/>
<circle cx="93" cy="464.8" r="1.95" fill="#000"/>
<circle cx="87.7" cy="467.3" r="1.95" fill="#000"/>
<circle cx="82.5" cy="469.5" r="1.95" fill="#000"/>
<circle cx="94.5" cy="469.5" r="1.95" fill="#000"/>
<circle cx="88" cy="472.6" r="1.95" fill="#000"/>
<circle cx="93" cy="478.7" r="1.95" fill="#000"/>
<circle cx="88" cy="482" r="1.95" fill="#000"/>
<line x1="109.5" y1="429.2" x2="132.6" y2="429.2" stroke="#000" stroke-width="1.1"/>
<polygon points="113.65,410.3 117.35,410.3 115.5,406.6" fill="#fff" stroke="#000" stroke-width="1.25" stroke-linejoin="miter"/>
<polygon points="119.35000000000001,410.3 123.05,410.3 121.2,406.6" fill="#fff" stroke="#000" stroke-width="1.25" stroke-linejoin="miter"/>
<polygon points="124.75,410.3 128.45,410.3 126.6,406.6" fill="#fff" stroke="#000" stroke-width="1.25" stroke-linejoin="miter"/>
<polygon points="119.35000000000001,425.8 123.05,425.8 121.2,422.1" fill="#fff" stroke="#000" stroke-width="1.25" stroke-linejoin="miter"/>
<polygon points="113.65,431.40000000000003 117.35,431.40000000000003 115.5,427.70000000000005" fill="#fff" stroke="#000" stroke-width="1.25" stroke-linejoin="miter"/>
<polygon points="119.35000000000001,433.3 123.05,433.3 121.2,429.6" fill="#fff" stroke="#000" stroke-width="1.25" stroke-linejoin="miter"/>
<polygon points="124.75,433.3 128.45,433.3 126.6,429.6" fill="#fff" stroke="#000" stroke-width="1.25" stroke-linejoin="miter"/>
<polygon points="119.35000000000001,448.3 123.05,448.3 121.2,444.6" fill="#fff" stroke="#000" stroke-width="1.25" stroke-linejoin="miter"/>
<polygon points="124.75,451.8 128.45,451.8 126.6,448.1" fill="#fff" stroke="#000" stroke-width="1.25" stroke-linejoin="miter"/>
<polygon points="119.35000000000001,455.3 123.05,455.3 121.2,451.6" fill="#fff" stroke="#000" stroke-width="1.25" stroke-linejoin="miter"/>
<line x1="143" y1="424.4" x2="165.8" y2="424.4" stroke="#000" stroke-width="1.1"/>
<polygon points="146.8,410.5 151.2,410.5 149,406.2" fill="#000"/>
<polygon points="152.0,410.5 156.39999999999998,410.5 154.2,406.2" fill="#000"/>
<polygon points="154.60000000000002,410.5 159.0,410.5 156.8,406.2" fill="#000"/>
<polygon points="157.20000000000002,410.5 161.6,410.5 159.4,406.2" fill="#000"/>
<polygon points="151.8,417 156.2,417 154,412.7" fill="#000"/>
<polygon points="151.8,439.3 156.2,439.3 154,435.0" fill="#000"/>
<polygon points="151.8,446 156.2,446 154,441.7" fill="#000"/>
<polygon points="151.8,452 156.2,452 154,447.7" fill="#000"/>
<polygon points="151.8,460 156.2,460 154,455.7" fill="#000"/>
<polyline points="57.5,403 57.5,400 85,400 85,403" fill="none" stroke="#000" stroke-width="1.25"/>
<text transform="translate(71.2 399.1) scale(0.95 1)" font-size="10.11" text-anchor="middle" fill="#111" stroke="#111" stroke-width="0.22">***</text>
<polyline points="121.2,401.8 121.2,398.5 150.6,398.5 150.6,401.8" fill="none" stroke="#000" stroke-width="1.25"/>
<text transform="translate(134.8 394.2) scale(0.925 1)" font-size="8.97" text-anchor="middle" fill="#111" stroke="#111" stroke-width="0.22">NS</text>
<text transform="translate(61.5 515) rotate(-41) scale(0.925 1)" font-size="9.51" text-anchor="end" fill="#111" stroke="#111" stroke-width="0.22">Control</text>
<text transform="translate(94 515) rotate(-41) scale(0.925 1)" font-size="9.51" text-anchor="end" fill="#111" stroke="#111" stroke-width="0.22">CEP-PE</text>
<text transform="translate(127.5 515) rotate(-41) scale(0.925 1)" font-size="9.51" text-anchor="end" fill="#111" stroke="#111" stroke-width="0.22">Control</text>
<text transform="translate(160.5 515) rotate(-41) scale(0.925 1)" font-size="9.51" text-anchor="end" fill="#111" stroke="#111" stroke-width="0.22">CEP-PE</text>
<line x1="33.7" y1="540.3" x2="75" y2="540.3" stroke="#000" stroke-width="1.2"/>
<line x1="100" y1="540.5" x2="141.2" y2="540.5" stroke="#000" stroke-width="1.2"/>
<text transform="translate(54.5 551.3) scale(0.925 1)" font-size="9.19" text-anchor="middle" fill="#111" stroke="#111" stroke-width="0.22">WT</text>
<text transform="translate(106.2 551.3) scale(1.0 1)" font-size="8.6" font-style="italic" fill="#111" stroke="#111" stroke-width="0.22">TLR2<tspan font-size="6.3" dy="-3.5" fill="#111" stroke="#111" stroke-width="0.15">−/−</tspan></text>
<defs><filter id="bl" x="-50%" y="-50%" width="200%" height="200%"><feGaussianBlur stdDeviation="0.7"/></filter><filter id="bl2" x="-50%" y="-50%" width="200%" height="200%"><feGaussianBlur stdDeviation="1.2"/></filter></defs>
<rect x="199.6" y="475.8" width="166.6" height="28.4" fill="#f5f5f5" stroke="#222" stroke-width="1.2"/>
<g filter="url(#bl2)"><ellipse cx="207" cy="493.3" rx="1.5" ry="3.2" fill="#999" transform="rotate(-20 207 493.3)"/><ellipse cx="220" cy="492" rx="1.2" ry="1.2" fill="#ddd"/><ellipse cx="284.5" cy="489.2" rx="1.3" ry="1" fill="#ccc"/><path d="M286.3,492.5 Q287.5,487.5 291.5,485 Q293.5,483.8 294.2,486.5 Q296.8,490 296.5,494.5 Q294,496.6 291,495.6 Q287,496.5 286.3,492.5Z" fill="#777"/><path d="M307,489 Q308.5,486 310.5,488 Q314.5,488 314.6,491.5 Q315,495.3 312.5,496 Q309,496.5 308.6,493 Q306.6,491.5 307,489Z" fill="#777"/><ellipse cx="332.3" cy="491.6" rx="3" ry="3.9" fill="#888" transform="rotate(-18 332.3 491.6)"/><ellipse cx="354.6" cy="489.7" rx="3" ry="2.5" fill="#888"/></g>
<g filter="url(#bl)"><path d="M286.8,492.5 Q288,488 291.5,485.6 Q293.3,484.3 293.9,487 Q296.4,490 296,494 Q294,496 291,495 Q287.5,496 286.8,492.5Z" fill="#000"/><path d="M307.6,489.2 Q308.6,487 310.3,488.8 Q314,488.5 314.1,491.5 Q314.5,494.8 312.5,495.5 Q309.5,496 309.2,493 Q307.2,491.5 307.6,489.2Z" fill="#050505"/><ellipse cx="332.3" cy="491.7" rx="2.6" ry="3.5" fill="#000" transform="rotate(-18 332.3 491.7)"/><ellipse cx="354.6" cy="489.7" rx="2.7" ry="2.2" fill="#000"/><circle cx="270" cy="484.5" r="0.9" fill="#444"/><circle cx="298.8" cy="484.4" r="0.7" fill="#666"/><circle cx="302.3" cy="484.3" r="0.7" fill="#666"/><circle cx="305.6" cy="484.5" r="0.7" fill="#777"/><circle cx="250" cy="484" r="0.6" fill="#bbb"/><circle cx="317" cy="478.3" r="0.6" fill="#999"/></g>
<text transform="translate(212.2 473.5) rotate(-41) scale(0.925 1)" font-size="9.41" fill="#111" stroke="#111" stroke-width="0.22">PE</text>
<text transform="translate(230.29999999999998 473.5) rotate(-41) scale(0.925 1)" font-size="9.41" fill="#111" stroke="#111" stroke-width="0.22">CD1</text>
<text transform="translate(252.6 473.5) rotate(-41) scale(0.925 1)" font-size="9.41" fill="#111" stroke="#111" stroke-width="0.22">CD2</text>
<text transform="translate(273.9 473.5) rotate(-41) scale(0.925 1)" font-size="9.41" fill="#111" stroke="#111" stroke-width="0.22">CD3</text>
<text transform="translate(295.2 473.5) rotate(-41) scale(0.925 1)" font-size="9.41" fill="#111" stroke="#111" stroke-width="0.22">WD1</text>
<text transform="translate(316.2 473.5) rotate(-41) scale(0.925 1)" font-size="9.41" fill="#111" stroke="#111" stroke-width="0.22">WD2</text>
<text transform="translate(338.4 473.5) rotate(-41) scale(0.925 1)" font-size="9.41" fill="#111" stroke="#111" stroke-width="0.22">WD3</text>
<text transform="translate(360.7 473.5) rotate(-41) scale(0.925 1)" font-size="9.41" fill="#111" stroke="#111" stroke-width="0.22">CEP-PE</text>
<text transform="translate(368.4 491.8) scale(0.925 1)" font-size="9.19" fill="#111" stroke="#111" stroke-width="0.22">CEP</text>
<line x1="447" y1="403.2" x2="447" y2="505.2" stroke="#000" stroke-width="1.2"/>
<line x1="446.4" y1="504.6" x2="512.5" y2="504.6" stroke="#000" stroke-width="1.2"/>
<line x1="443.7" y1="405.6" x2="447" y2="405.6" stroke="#000" stroke-width="1.1"/>
<text transform="translate(440.4 408.70000000000005) scale(0.925 1)" font-size="9.19" text-anchor="end" fill="#111" stroke="#111" stroke-width="0.22">40</text>
<line x1="443.7" y1="430.6" x2="447" y2="430.6" stroke="#000" stroke-width="1.1"/>
<text transform="translate(440.4 433.70000000000005) scale(0.925 1)" font-size="9.19" text-anchor="end" fill="#111" stroke="#111" stroke-width="0.22">30</text>
<line x1="443.7" y1="455.4" x2="447" y2="455.4" stroke="#000" stroke-width="1.1"/>
<text transform="translate(440.4 458.5) scale(0.925 1)" font-size="9.19" text-anchor="end" fill="#111" stroke="#111" stroke-width="0.22">20</text>
<line x1="443.7" y1="480.2" x2="447" y2="480.2" stroke="#000" stroke-width="1.1"/>
<text transform="translate(440.4 483.3) scale(0.925 1)" font-size="9.19" text-anchor="end" fill="#111" stroke="#111" stroke-width="0.22">10</text>
<line x1="443.7" y1="504.6" x2="447" y2="504.6" stroke="#000" stroke-width="1.1"/>
<text transform="translate(440.4 507.70000000000005) scale(0.925 1)" font-size="9.19" text-anchor="end" fill="#111" stroke="#111" stroke-width="0.22">0</text>
<text transform="translate(412.8 454.3) rotate(-90) scale(0.925 1)" font-size="10.0" text-anchor="middle" fill="#111" stroke="#111" stroke-width="0.22">Plasma concentration</text>
<text transform="translate(425.8 454.3) rotate(-90) scale(0.925 1)" font-size="9.73" text-anchor="middle" fill="#111" stroke="#111" stroke-width="0.22">of CEP-PE (µM)</text>
<rect x="455.3" y="496.4" width="15.300000000000011" height="8.200000000000045" fill="#c9c9c9"/>
<line x1="462.95000000000005" y1="494.7" x2="462.95000000000005" y2="496.9" stroke="#000" stroke-width="1.1"/>
<line x1="461.20000000000005" y1="494.7" x2="464.70000000000005" y2="494.7" stroke="#000" stroke-width="1.1"/>
<rect x="493.7" y="434.4" width="15.300000000000011" height="70.20000000000005" fill="#000"/>
<line x1="501.35" y1="425.5" x2="501.35" y2="434.9" stroke="#000" stroke-width="1.1"/>
<line x1="499.35" y1="425.5" x2="503.35" y2="425.5" stroke="#000" stroke-width="1.1"/>
<text transform="translate(500.8 410) scale(0.925 1)" font-size="8.65" text-anchor="middle" fill="#111" stroke="#111" stroke-width="0.22">n = 13</text>
<text transform="translate(501.2 425.1) scale(0.95 1)" font-size="10.11" text-anchor="middle" fill="#111" stroke="#111" stroke-width="0.22">***</text>
<text transform="translate(452 433.9) scale(1.0 1)" font-size="8.5" font-style="italic" fill="#111" stroke="#111" stroke-width="0.22">ApoE<tspan font-size="6.4" dy="-3.5" fill="#111" stroke="#111" stroke-width="0.15">−/−</tspan></text>
<text transform="translate(462.8 491.7) scale(0.925 1)" font-size="8.65" text-anchor="middle" fill="#111" stroke="#111" stroke-width="0.22">n = 13</text>
<text transform="translate(463.5 515.7) scale(0.925 1)" font-size="9.19" text-anchor="middle" fill="#111" stroke="#111" stroke-width="0.22">CD</text>
<text transform="translate(501.3 515.7) scale(0.925 1)" font-size="9.19" text-anchor="middle" fill="#111" stroke="#111" stroke-width="0.22">WD</text>
<line x1="208" y1="603" x2="208" y2="704.3" stroke="#000" stroke-width="1.2"/>
<line x1="207.4" y1="703.7" x2="342.5" y2="703.7" stroke="#000" stroke-width="1.2"/>
<line x1="204.6" y1="605.7" x2="208" y2="605.7" stroke="#000" stroke-width="1.1"/>
<text transform="translate(201.2 608.8000000000001) scale(0.925 1)" font-size="9.19" text-anchor="end" fill="#111" stroke="#111" stroke-width="0.22">30</text>
<line x1="204.6" y1="638.3" x2="208" y2="638.3" stroke="#000" stroke-width="1.1"/>
<text transform="translate(201.2 641.4) scale(0.925 1)" font-size="9.19" text-anchor="end" fill="#111" stroke="#111" stroke-width="0.22">20</text>
<line x1="204.6" y1="671.2" x2="208" y2="671.2" stroke="#000" stroke-width="1.1"/>
<text transform="translate(201.2 674.3000000000001) scale(0.925 1)" font-size="9.19" text-anchor="end" fill="#111" stroke="#111" stroke-width="0.22">10</text>
<line x1="204.6" y1="703.7" x2="208" y2="703.7" stroke="#000" stroke-width="1.1"/>
<text transform="translate(201.2 706.8000000000001) scale(0.925 1)" font-size="9.19" text-anchor="end" fill="#111" stroke="#111" stroke-width="0.22">0</text>
<text transform="translate(185.5 655.5) rotate(-90) scale(0.925 1)" font-size="10.27" text-anchor="middle" fill="#111" stroke="#111" stroke-width="0.22">Occlusion time (min)</text>
<rect x="211.7" y="632" width="14.5" height="71.70000000000005" fill="#000"/>
<line x1="218.95" y1="625" x2="218.95" y2="632.5" stroke="#000" stroke-width="1.2"/>
<line x1="215.2" y1="625" x2="222.7" y2="625" stroke="#000" stroke-width="1.2"/>
<rect x="234.2" y="656.2" width="14.5" height="47.5" fill="#3c3c3c"/>
<line x1="241.45" y1="650.5" x2="241.45" y2="656.7" stroke="#000" stroke-width="1.2"/>
<line x1="237.7" y1="650.5" x2="245.2" y2="650.5" stroke="#000" stroke-width="1.2"/>
<rect x="256.2" y="630.2" width="15.0" height="73.5" fill="#636363"/>
<line x1="263.7" y1="625.5" x2="263.7" y2="630.7" stroke="#000" stroke-width="1.2"/>
<line x1="259.95" y1="625.5" x2="267.45" y2="625.5" stroke="#000" stroke-width="1.2"/>
<rect x="278.2" y="634.3" width="15.0" height="69.40000000000009" fill="#8a8a8a"/>
<line x1="285.7" y1="626.7" x2="285.7" y2="634.8" stroke="#000" stroke-width="1.2"/>
<line x1="281.95" y1="626.7" x2="289.45" y2="626.7" stroke="#000" stroke-width="1.2"/>
<rect x="300.5" y="613.2" width="15.0" height="90.5" fill="#b2b2b2"/>
<line x1="308.0" y1="609.2" x2="308.0" y2="613.7" stroke="#000" stroke-width="1.2"/>
<line x1="304.25" y1="609.2" x2="311.75" y2="609.2" stroke="#000" stroke-width="1.2"/>
<rect x="323" y="611.2" width="15" height="92.5" fill="#d9d9d9"/>
<line x1="330.5" y1="607.5" x2="330.5" y2="611.7" stroke="#000" stroke-width="1.2"/>
<line x1="326.75" y1="607.5" x2="334.25" y2="607.5" stroke="#000" stroke-width="1.2"/>
<polyline points="240.5,595.6 240.5,593 330.5,593 330.5,595.6" fill="none" stroke="#000" stroke-width="1.25"/>
<text transform="translate(286.2 593.1) scale(0.95 1)" font-size="10.11" text-anchor="middle" fill="#111" stroke="#111" stroke-width="0.22">***</text>
<polyline points="240.5,622.5 240.5,619.9 285.6,619.9 285.6,622.5" fill="none" stroke="#000" stroke-width="1.25"/>
<text transform="translate(264 620.6) scale(0.95 1)" font-size="10.11" text-anchor="middle" fill="#111" stroke="#111" stroke-width="0.22">*</text>
<polyline points="285.8,605.1 285.8,602.5 330.5,602.5 330.5,605.1" fill="none" stroke="#000" stroke-width="1.25"/>
<text transform="translate(308.7 602.6) scale(0.95 1)" font-size="10.11" text-anchor="middle" fill="#111" stroke="#111" stroke-width="0.22">*</text>
<text transform="translate(218.9 715.8) scale(0.925 1)" font-size="9.73" text-anchor="middle" fill="#111" stroke="#111" stroke-width="0.22">CD</text>
<text transform="translate(241.3 715.8) scale(0.925 1)" font-size="9.73" text-anchor="middle" fill="#111" stroke="#111" stroke-width="0.22">WD</text>
<text transform="translate(263.6 715.8) scale(0.925 1)" font-size="9.73" text-anchor="middle" fill="#111" stroke="#111" stroke-width="0.22">CD</text>
<text transform="translate(285.8 715.8) scale(0.925 1)" font-size="9.73" text-anchor="middle" fill="#111" stroke="#111" stroke-width="0.22">WD</text>
<text transform="translate(308.1 715.8) scale(0.925 1)" font-size="9.73" text-anchor="middle" fill="#111" stroke="#111" stroke-width="0.22">CD</text>
<text transform="translate(330.3 715.8) scale(0.925 1)" font-size="9.73" text-anchor="middle" fill="#111" stroke="#111" stroke-width="0.22">WD</text>
<line x1="211.2" y1="720.3" x2="248.7" y2="720.3" stroke="#000" stroke-width="1.2"/>
<line x1="259.5" y1="720.3" x2="293.7" y2="720.3" stroke="#000" stroke-width="1.2"/>
<line x1="303.6" y1="720.2" x2="338" y2="720.2" stroke="#000" stroke-width="1.2"/>
<text transform="translate(216.2 731.7) scale(1.0 1)" font-size="8.9" font-style="italic" fill="#111" stroke="#111" stroke-width="0.22">ApoE<tspan font-size="6.1" dy="-3.7" fill="#111" stroke="#111" stroke-width="0.15">−/−</tspan></text>
<text transform="translate(262.5 731.7) scale(1.0 1)" font-size="8.9" font-style="italic" fill="#111" stroke="#111" stroke-width="0.22">ApoE<tspan font-size="6.1" dy="-3.7" fill="#111" stroke="#111" stroke-width="0.15">−/−</tspan></text>
<text transform="translate(259.7 742.1) scale(1.0 1)" font-size="8.9" font-style="italic" fill="#111" stroke="#111" stroke-width="0.22">/CD36<tspan font-size="6.1" dy="-3.7" fill="#111" stroke="#111" stroke-width="0.15">−/−</tspan></text>
<text transform="translate(310.2 731.7) scale(1.0 1)" font-size="8.9" font-style="italic" fill="#111" stroke="#111" stroke-width="0.22">ApoE<tspan font-size="6.1" dy="-3.7" fill="#111" stroke="#111" stroke-width="0.15">−/−</tspan></text>
<text transform="translate(308.3 742.1) scale(1.0 1)" font-size="8.9" font-style="italic" fill="#111" stroke="#111" stroke-width="0.22">/TLR2<tspan font-size="6.1" dy="-3.7" fill="#111" stroke="#111" stroke-width="0.15">−/−</tspan></text>
<text transform="translate(308.3 752.8) scale(1.0 1)" font-size="8.9" font-style="italic" fill="#111" stroke="#111" stroke-width="0.22">/CD36<tspan font-size="6.1" dy="-3.7" fill="#111" stroke="#111" stroke-width="0.15">−/−</tspan></text>
</g>
</svg>
</body></html>
